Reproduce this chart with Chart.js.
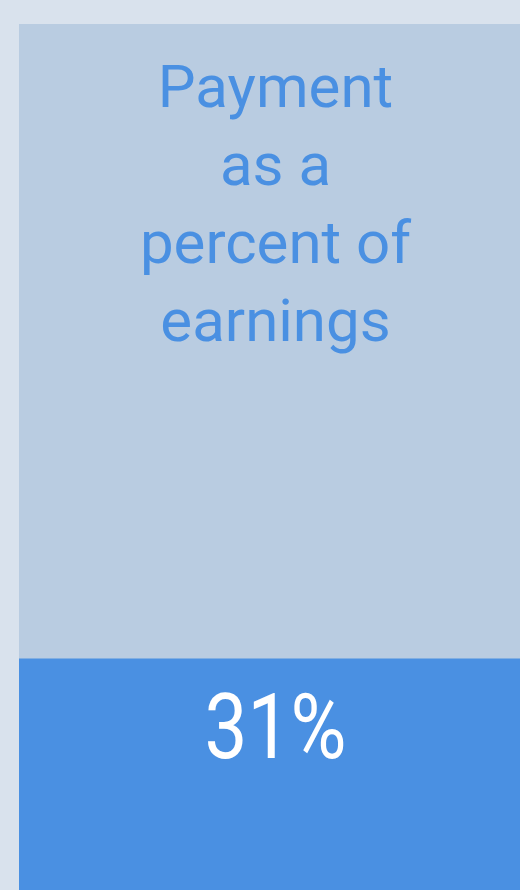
<!DOCTYPE html>
<html>
<head>
<meta charset="utf-8">
<script src="https://cdn.jsdelivr.net/npm/chart.js@4"></script>
<style>
  html, body { margin: 0; padding: 0; background: #d9e2ed; overflow: hidden; }
  #wrap { width: 520px; height: 890px; overflow: hidden; }
  canvas { display: block; }
</style>
</head>
<body>
<div id="wrap"><canvas id="chart" width="551" height="968"></canvas></div>
<script>
// Dados do gráfico
const categories = ['Payment'];
const paymentValues = [31];
const remainderValues = [69];
const titleLines = ['Payment', 'as a', 'percent of', 'earnings'];

const BLUE = '#4a90e2';
const PANEL = '#b9cce1';

// textos dentro das barras
const barTextPlugin = {
    id: 'barText',
    afterDatasetsDraw(chart) {
        const { ctx } = chart;
        const payBar = chart.getDatasetMeta(0).data[0];
        const restBar = chart.getDatasetMeta(1).data[0];
        ctx.save();
        ctx.textAlign = 'center';
        ctx.textBaseline = 'alphabetic';

        ctx.fillStyle = BLUE;
        ctx.font = '60px Roboto';
        titleLines.forEach((line, i) => {
            ctx.fillText(line, restBar.x, restBar.y + 83 + i * 78);
        });

        // valor: fonte estreita (condensada na horizontal)
        ctx.fillStyle = '#ffffff';
        ctx.font = '91px Roboto';
        ctx.translate(payBar.x, payBar.y + 99);
        ctx.scale(0.84, 1);
        ctx.fillText(paymentValues[0] + '%', 0, 0);
        ctx.restore();
    }
};

new Chart(document.getElementById('chart').getContext('2d'), {
    type: 'bar',
    data: {
        labels: categories,
        datasets: [
            { label: 'Payment', data: paymentValues, backgroundColor: BLUE, borderWidth: 0 },
            { label: 'Remainder', data: remainderValues, backgroundColor: PANEL, borderWidth: 0 }
        ]
    },
    options: {
        responsive: false,
        animation: false,
        layout: { padding: { left: 19, top: 24, right: 19, bottom: 24 } },
        datasets: { bar: { barPercentage: 1, categoryPercentage: 1 } },
        scales: {
            x: { stacked: true, display: false },
            y: { stacked: true, display: false, min: 0, max: 100 }
        },
        plugins: {
            legend: { display: false },
            tooltip: { enabled: false }
        }
    },
    plugins: [barTextPlugin]
});
</script>
</body>
</html>
